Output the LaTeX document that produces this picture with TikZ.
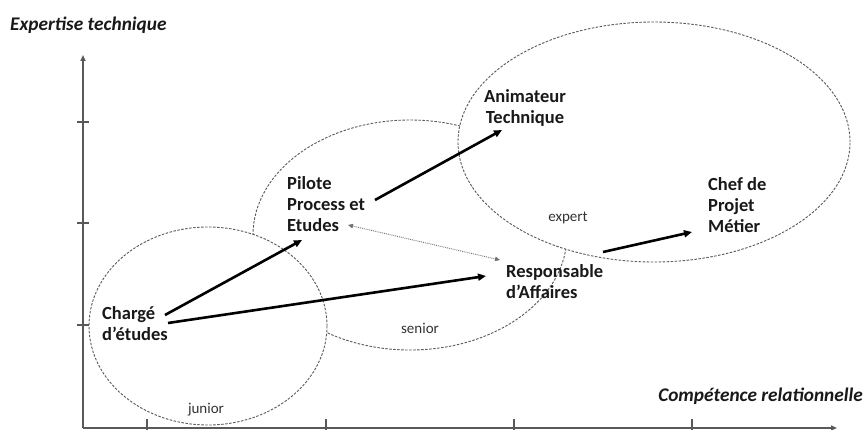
\documentclass[tikz,border=0pt]{standalone}
\usepackage{fontspec}
\setmainfont{Carlito}
\usetikzlibrary{arrows.meta,calc}
\begin{document}
\begin{tikzpicture}[x=1pt,y=-1pt,
  lbl/.style={inner sep=0pt, align=left, font=\fontsize{18.5}{21}\selectfont\bfseries, text=black!90},
  era/.style={inner sep=0pt, font=\fontsize{15}{18}\selectfont, text=black!80},
  axlbl/.style={inner sep=0pt, font=\fontsize{19.3}{22}\selectfont\bfseries\itshape, text=black!90},
  zone/.style={draw=black!65, line width=0.9pt, dash pattern=on 2.5pt off 1.5pt},
  axis/.style={draw=black!65, line width=1.6pt},
  tick/.style={draw=black!65, line width=1.2pt},
  move/.style={line width=2.6pt, -{Triangle[length=8pt,width=7pt]}},
  link/.style={draw=black!55, line width=0.9pt, densely dotted, {Triangle[length=5pt,width=4.5pt]}-{Triangle[length=5pt,width=4.5pt]}}
]
\useasboundingbox (0,0) rectangle (866,430);
\fill[white] (0,0) rectangle (866,430);

% zones
\draw[zone] (410,235) ellipse [x radius=157pt, y radius=115pt];
\draw[zone, fill=white] (208,326) ellipse [x radius=119pt, y radius=99pt];
\draw[zone, fill=white] (654,142) ellipse [x radius=196pt, y radius=120pt];

% axes
\coordinate (O) at (83,428);
\coordinate (ytip) at (83,55);
\coordinate (xtip) at (837,428);
\draw[axis, -{Triangle[length=6pt,width=5pt]}] (O) -- (ytip);
\draw[axis, -{Triangle[length=6pt,width=5pt]}] (O) -- (xtip);
\foreach \y in {122,223,325} \draw[tick] (77,\y) -- (89,\y);
\foreach \x in {147,326,514,692} \draw[tick] (\x,419) -- (\x,437);

\node[axlbl, anchor=base west] (ylab) at (10,31) {Expertise technique};
\node[axlbl, anchor=base east] (xlab) at (863,401) {Compétence relationnelle};

% zone labels
\node[era] (junior) at (206,410) {junior};
\node[era] (senior) at (420,328) {senior};
\node[era] (expert) at (568,218) {expert};

% roles
\node[lbl, anchor=north west] (charge) at (102,304.3) {\strut Chargé\\d’études};
\node[lbl, anchor=north west] (pilote) at (287,174.3) {\strut Pilote\\Process et\\Etudes};
\node[lbl, anchor=north, align=center] (anim) at (525,87.3) {\strut Animateur\\Technique};
\node[lbl, anchor=north west] (chef) at (708,175.3) {\strut Chef de\\Projet\\Métier};
\node[lbl, anchor=north west] (resp) at (506,262.3) {\strut Responsable\\d’Affaires};

% moves
\draw[move] ($(charge.north west)+(63,10.7)$) -- ($(pilote.north west)+(15,65.7)$);
\draw[move] ($(charge.north west)+(66,18.7)$) -- ($(resp.north west)+(-20,13.7)$);
\draw[move] ($(pilote.north west)+(88,25.7)$) -- ($(anim.north)+(-23,42.7)$);
\draw[link] ($(pilote.north west)+(61,50.7)$) -- ($(resp.north west)+(-6,-2.3)$);
\draw[move] ($(resp.north west)+(97,-10.3)$) -- ($(chef.north west)+(-16,56.7)$);
\end{tikzpicture}
\end{document}
